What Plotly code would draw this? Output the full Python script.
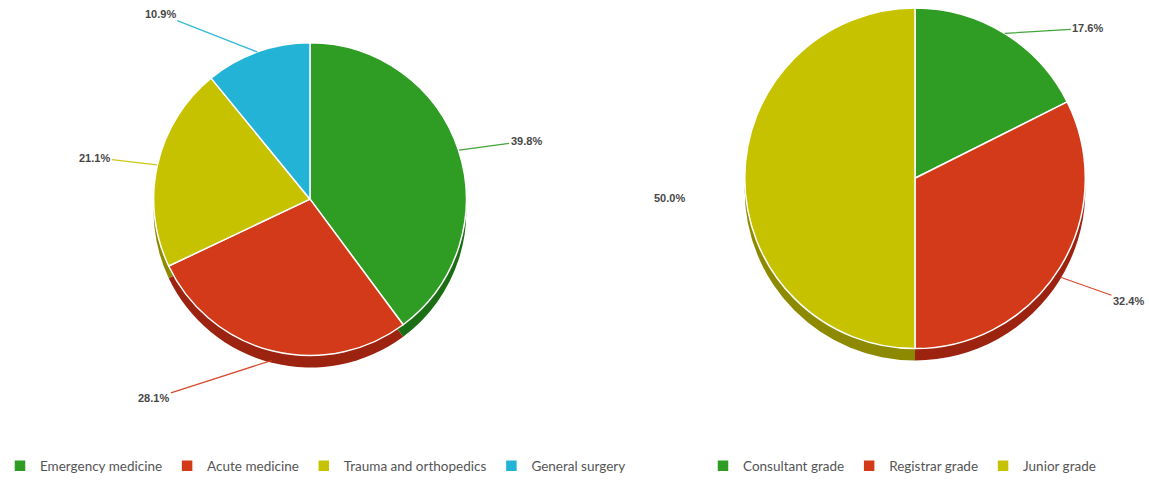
import math
import plotly.graph_objects as go

W, H = 1149, 482

# ---- data ----
left_labels = ["Emergency medicine", "Acute medicine", "Trauma and orthopedics", "General surgery"]
left_values = [39.8, 28.1, 21.1, 10.9]
right_labels = ["Consultant grade", "Registrar grade", "Junior grade"]
right_values = [17.6, 32.4, 50.0]

# ---- styles ----
left_colors = ["#2f9d24", "#d33a19", "#c6c200", "#22b3d6"]
left_dark = ["#1c6e15", "#9c2310", "#8d8a00", "#16809c"]
right_colors = ["#2f9d24", "#d33a19", "#c6c200"]
right_dark = ["#1c6e15", "#9c2310", "#8d8a00"]

LEFT = dict(cx=310, cy=200, r=157)
RIGHT = dict(cx=915, cy=179, r=171)
DEPTH = 12

# label offsets (pixels) text relative to slice edge point, style only
left_offsets = [(67, -9), (-118, 38), (-62, -7), (-97, -38)]
right_offsets = [(83, -5), (68, 24), (-75, 10)]
right_arrow = [True, True, False]


def domain(g, dy=0):
    cx, cy, r = g["cx"], g["cy"] + dy, g["r"]
    return dict(x=[(cx - r) / W, (cx + r) / W], y=[1 - (cy + r) / H, 1 - (cy - r) / H])


fig = go.Figure()

def add_pie(labels, values, colors, dark, g, legend):
    # depth (shadow) pie
    fig.add_trace(go.Pie(labels=labels, values=values, sort=False, direction="clockwise",
                         rotation=0, textinfo="none", hoverinfo="skip", showlegend=False,
                         marker=dict(colors=dark, line=dict(color="white", width=0)),
                         domain=domain(g, DEPTH), legend=legend))
    fig.add_trace(go.Pie(labels=labels, values=values, sort=False, direction="clockwise",
                         rotation=0, textinfo="none", showlegend=True,
                         marker=dict(colors=colors, line=dict(color="white", width=1.5)),
                         domain=domain(g), legend=legend))

add_pie(left_labels, left_values, left_colors, left_dark, LEFT, "legend")
add_pie(right_labels, right_values, right_colors, right_dark, RIGHT, "legend2")


def add_labels(values, colors, g, offsets, arrows=None):
    total = sum(values)
    cum = 0
    for i, v in enumerate(values):
        mid = (cum + v / 2) / total * 2 * math.pi
        cum += v
        px = g["cx"] + g["r"] * math.sin(mid)
        py = g["cy"] - g["r"] * math.cos(mid)
        if math.cos(mid) < 0:
            py += DEPTH * 0.8
        ax, ay = offsets[i]
        show = True if arrows is None else arrows[i]
        fig.add_annotation(x=px / W, y=1 - py / H, xref="paper", yref="paper",
                           text=f"<b>{v:.1f}%</b>", showarrow=True, ax=ax, ay=ay,
                           arrowhead=0, arrowwidth=1.3, standoff=0,
                           arrowcolor=colors[i] if show else "rgba(0,0,0,0)",
                           opacity=0.9,
                           font=dict(family="Liberation Sans Narrow, Liberation Sans", size=11, color="#333333"),
                           )

add_labels(left_values, left_colors, LEFT, left_offsets)
add_labels(right_values, right_colors, RIGHT, right_offsets, right_arrow)

legend_font = dict(family="Lato", size=13.5, color="#555555")
fig.update_layout(
    width=W, height=H,
    margin=dict(l=0, r=0, t=0, b=0),
    paper_bgcolor="white", plot_bgcolor="white",
    legend=dict(orientation="h", x=0, y=1 - 468 / H, xanchor="left", yanchor="middle",
                font=legend_font, itemwidth=30, traceorder="normal"),
    legend2=dict(orientation="h", x=703 / W, y=1 - 468 / H, xanchor="left", yanchor="middle",
                 font=legend_font, itemwidth=30, traceorder="normal"),
)

fig.write_html("out.html")
